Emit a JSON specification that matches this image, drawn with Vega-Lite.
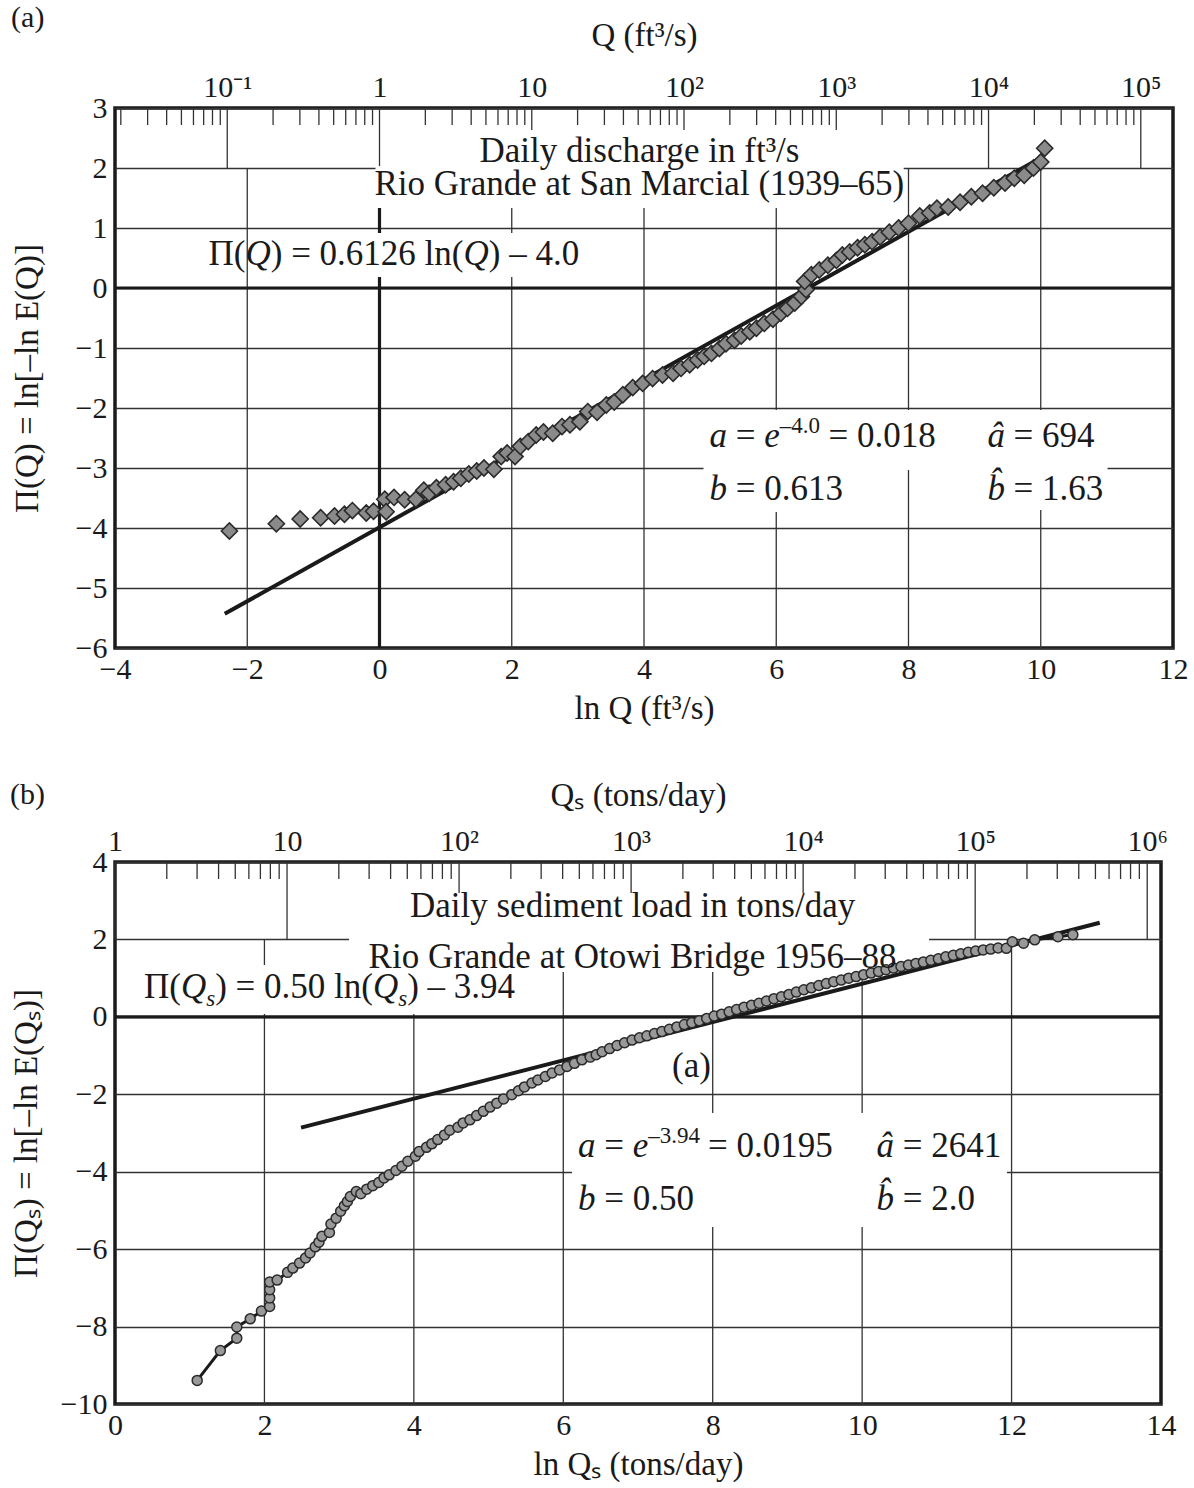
{
  "$schema": "https://vega.github.io/schema/vega-lite/v6.json",
  "padding": {"left": 8, "top": 1, "right": 6, "bottom": 4},
  "spacing": 50,
  "config": {
    "font": "Liberation Serif",
    "view": {"stroke": "#1a1a1a", "strokeWidth": 3.5},
    "axis": {
      "labelFont": "Liberation Serif", "labelFontSize": 30, "labelColor": "#1a1a1a",
      "titleFont": "Liberation Serif", "titleFontSize": 33, "titleFontWeight": "normal", "titleColor": "#1a1a1a",
      "domain": false, "ticks": false, "labelFlush": false, "labelOverlap": false,
      "gridColor": "#333333", "gridWidth": 1.3, "gridOpacity": 1
    },
    "title": {"font": "Liberation Serif", "fontSize": 30, "fontWeight": "normal", "anchor": "start", "frame": "bounds", "color": "#1a1a1a"}
  },
  "datasets": {
    "ptsA": [
      {"x": -2.27, "y": -4.05}, {"x": -1.56, "y": -3.93}, {"x": -1.2, "y": -3.85}, {"x": -0.89, "y": -3.83},
      {"x": -0.68, "y": -3.8}, {"x": -0.53, "y": -3.77}, {"x": -0.41, "y": -3.71}, {"x": -0.2, "y": -3.75},
      {"x": -0.09, "y": -3.72}, {"x": 0.08, "y": -3.52}, {"x": 0.1, "y": -3.73}, {"x": 0.22, "y": -3.49},
      {"x": 0.38, "y": -3.53}, {"x": 0.55, "y": -3.52}, {"x": 0.67, "y": -3.37}, {"x": 0.75, "y": -3.42},
      {"x": 0.86, "y": -3.33}, {"x": 1.0, "y": -3.28}, {"x": 1.12, "y": -3.23}, {"x": 1.23, "y": -3.17},
      {"x": 1.35, "y": -3.1}, {"x": 1.47, "y": -3.05}, {"x": 1.58, "y": -3.0}, {"x": 1.73, "y": -3.02},
      {"x": 1.84, "y": -2.81}, {"x": 1.93, "y": -2.75}, {"x": 2.05, "y": -2.81}, {"x": 2.13, "y": -2.64},
      {"x": 2.25, "y": -2.56}, {"x": 2.37, "y": -2.45}, {"x": 2.48, "y": -2.4}, {"x": 2.62, "y": -2.42},
      {"x": 2.76, "y": -2.31}, {"x": 2.88, "y": -2.28}, {"x": 3.03, "y": -2.23}, {"x": 3.15, "y": -2.06},
      {"x": 3.29, "y": -2.07}, {"x": 3.43, "y": -1.95}, {"x": 3.55, "y": -1.9}, {"x": 3.68, "y": -1.78},
      {"x": 3.83, "y": -1.66}, {"x": 3.98, "y": -1.59}, {"x": 4.13, "y": -1.51}, {"x": 4.28, "y": -1.45},
      {"x": 4.44, "y": -1.42}, {"x": 4.56, "y": -1.34}, {"x": 4.69, "y": -1.28}, {"x": 4.81, "y": -1.2},
      {"x": 4.91, "y": -1.14}, {"x": 5.02, "y": -1.09}, {"x": 5.14, "y": -1.01}, {"x": 5.24, "y": -0.93},
      {"x": 5.37, "y": -0.87}, {"x": 5.47, "y": -0.8}, {"x": 5.6, "y": -0.73}, {"x": 5.7, "y": -0.67},
      {"x": 5.82, "y": -0.59}, {"x": 5.95, "y": -0.52}, {"x": 6.07, "y": -0.42}, {"x": 6.17, "y": -0.34},
      {"x": 6.28, "y": -0.25}, {"x": 6.38, "y": -0.14}, {"x": 6.45, "y": -0.03}, {"x": 6.43, "y": 0.11},
      {"x": 6.53, "y": 0.22}, {"x": 6.65, "y": 0.3}, {"x": 6.78, "y": 0.38}, {"x": 6.91, "y": 0.46},
      {"x": 7.0, "y": 0.55}, {"x": 7.11, "y": 0.6}, {"x": 7.23, "y": 0.67}, {"x": 7.34, "y": 0.72},
      {"x": 7.45, "y": 0.77}, {"x": 7.57, "y": 0.85}, {"x": 7.71, "y": 0.93}, {"x": 7.85, "y": 1.0},
      {"x": 8.0, "y": 1.08}, {"x": 8.17, "y": 1.2}, {"x": 8.32, "y": 1.25}, {"x": 8.43, "y": 1.33},
      {"x": 8.6, "y": 1.35}, {"x": 8.78, "y": 1.43}, {"x": 8.95, "y": 1.52}, {"x": 9.12, "y": 1.58},
      {"x": 9.29, "y": 1.67}, {"x": 9.46, "y": 1.75}, {"x": 9.6, "y": 1.83}, {"x": 9.75, "y": 1.88},
      {"x": 9.89, "y": 2.0}, {"x": 10.0, "y": 2.1}, {"x": 10.06, "y": 2.33}
    ],
    "lineA": [{"x": -2.34, "y": -5.43}, {"x": 10.05, "y": 2.2}],
    "vgridA": [{"g": -2}, {"g": 0}, {"g": 2}, {"g": 4}, {"g": 6}, {"g": 8}, {"g": 10}],
    "decA": [{"t": -2.302585}, {"t": 0}, {"t": 2.302585}, {"t": 4.60517}, {"t": 6.907755}, {"t": 9.21034}, {"t": 11.512925}],
    "minA": [
      {"t": -3.912023}, {"t": -3.506558}, {"t": -3.218876}, {"t": -2.995732}, {"t": -2.813411}, {"t": -2.65926}, {"t": -2.525729}, {"t": -2.407946},
      {"t": -1.609438}, {"t": -1.203973}, {"t": -0.916291}, {"t": -0.693147}, {"t": -0.510826}, {"t": -0.356675}, {"t": -0.223144}, {"t": -0.105361},
      {"t": 0.693147}, {"t": 1.098612}, {"t": 1.386294}, {"t": 1.609438}, {"t": 1.791759}, {"t": 1.94591}, {"t": 2.079442}, {"t": 2.197225},
      {"t": 2.995732}, {"t": 3.401197}, {"t": 3.688879}, {"t": 3.912023}, {"t": 4.094345}, {"t": 4.248495}, {"t": 4.382027}, {"t": 4.49981},
      {"t": 5.298317}, {"t": 5.703782}, {"t": 5.991465}, {"t": 6.214608}, {"t": 6.39693}, {"t": 6.55108}, {"t": 6.684612}, {"t": 6.802395},
      {"t": 7.600902}, {"t": 8.006368}, {"t": 8.29405}, {"t": 8.517193}, {"t": 8.699515}, {"t": 8.853665}, {"t": 8.987197}, {"t": 9.10498},
      {"t": 9.903488}, {"t": 10.308953}, {"t": 10.596635}, {"t": 10.819778}, {"t": 11.0021}, {"t": 11.156251}, {"t": 11.289782}, {"t": 11.407565}
    ],
    "boxesA": [
      {"x1": 0.045, "x2": 7.924, "y1": 2.633, "y2": 1.967},
      {"x1": -0.06, "x2": 7.924, "y1": 2.033, "y2": 1.333},
      {"x1": -1.936, "x2": 3.327, "y1": 0.917, "y2": 0.183},
      {"x1": 4.9, "x2": 11.01, "y1": -2.033, "y2": -3.033},
      {"x1": 4.9, "x2": 7.108, "y1": -3.033, "y2": -3.733},
      {"x1": 9.074, "x2": 11.01, "y1": -3.033, "y2": -3.7}
    ],
    "txtA": [
      {"x": 1.513, "y": 2.1, "t": "Daily discharge in ft³/s"},
      {"x": -0.076, "y": 1.55, "t": "Rio Grande at San Marcial (1939–65)"},
      {"x": -2.586, "y": 0.383, "t": "Π("},
      {"x": -1.645, "y": 0.383, "t": ") = 0.6126 ln("},
      {"x": 1.653, "y": 0.383, "t": ") – 4.0"},
      {"x": 5.388, "y": -2.645, "t": "="},
      {"x": 6.79, "y": -2.645, "t": "= 0.018"},
      {"x": 5.388, "y": -3.533, "t": "= 0.613"},
      {"x": 9.589, "y": -2.645, "t": "= 694"},
      {"x": 9.589, "y": -3.533, "t": "= 1.63"}
    ],
    "itA": [
      {"x": -2.028, "y": 0.383, "t": "Q"},
      {"x": 1.27, "y": 0.383, "t": "Q"},
      {"x": 4.991, "y": -2.645, "t": "a"},
      {"x": 5.819, "y": -2.645, "t": "e"},
      {"x": 4.991, "y": -3.533, "t": "b"},
      {"x": 9.195, "y": -2.645, "t": "â"},
      {"x": 9.195, "y": -3.533, "t": "b̂"}
    ],
    "supA": [{"x": 6.053, "y": -2.417, "t": "–4.0"}],
    "ptsB": [
      {"x": 1.1, "y": -9.39}, {"x": 1.41, "y": -8.62}, {"x": 1.63, "y": -8.3}, {"x": 1.63, "y": -8.01},
      {"x": 1.81, "y": -7.8}, {"x": 1.96, "y": -7.6}, {"x": 2.07, "y": -7.48}, {"x": 2.07, "y": -7.26},
      {"x": 2.07, "y": -7.05}, {"x": 2.07, "y": -6.85}, {"x": 2.17, "y": -6.8}, {"x": 2.31, "y": -6.6},
      {"x": 2.38, "y": -6.49}, {"x": 2.47, "y": -6.36}, {"x": 2.55, "y": -6.23}, {"x": 2.61, "y": -6.1},
      {"x": 2.68, "y": -5.94}, {"x": 2.73, "y": -5.82}, {"x": 2.77, "y": -5.67}, {"x": 2.87, "y": -5.57},
      {"x": 2.89, "y": -5.35}, {"x": 2.96, "y": -5.2}, {"x": 3.02, "y": -5.02}, {"x": 3.07, "y": -4.88},
      {"x": 3.11, "y": -4.77}, {"x": 3.15, "y": -4.64}, {"x": 3.23, "y": -4.51}, {"x": 3.29, "y": -4.57},
      {"x": 3.37, "y": -4.45}, {"x": 3.45, "y": -4.36}, {"x": 3.53, "y": -4.28}, {"x": 3.6, "y": -4.16},
      {"x": 3.67, "y": -4.08}, {"x": 3.76, "y": -3.97}, {"x": 3.84, "y": -3.86}, {"x": 3.92, "y": -3.73},
      {"x": 4.02, "y": -3.6}, {"x": 4.07, "y": -3.48}, {"x": 4.17, "y": -3.37}, {"x": 4.24, "y": -3.28},
      {"x": 4.32, "y": -3.17}, {"x": 4.41, "y": -3.05}, {"x": 4.48, "y": -2.93}, {"x": 4.59, "y": -2.85},
      {"x": 4.66, "y": -2.74}, {"x": 4.75, "y": -2.66}, {"x": 4.84, "y": -2.55}, {"x": 4.93, "y": -2.44},
      {"x": 5.02, "y": -2.33}, {"x": 5.11, "y": -2.23}, {"x": 5.2, "y": -2.12}, {"x": 5.31, "y": -2.01},
      {"x": 5.4, "y": -1.91}, {"x": 5.48, "y": -1.81}, {"x": 5.58, "y": -1.71}, {"x": 5.66, "y": -1.63},
      {"x": 5.76, "y": -1.54}, {"x": 5.85, "y": -1.45}, {"x": 5.95, "y": -1.37}, {"x": 6.05, "y": -1.28},
      {"x": 6.15, "y": -1.2}, {"x": 6.25, "y": -1.11}, {"x": 6.36, "y": -1.04}, {"x": 6.44, "y": -0.98},
      {"x": 6.52, "y": -0.9}, {"x": 6.62, "y": -0.82}, {"x": 6.72, "y": -0.74}, {"x": 6.82, "y": -0.67},
      {"x": 6.92, "y": -0.6}, {"x": 7.02, "y": -0.54}, {"x": 7.12, "y": -0.49}, {"x": 7.22, "y": -0.43},
      {"x": 7.32, "y": -0.38}, {"x": 7.42, "y": -0.32}, {"x": 7.52, "y": -0.26}, {"x": 7.62, "y": -0.2},
      {"x": 7.72, "y": -0.15}, {"x": 7.82, "y": -0.1}, {"x": 7.92, "y": -0.04}, {"x": 8.02, "y": 0.02},
      {"x": 8.12, "y": 0.07}, {"x": 8.22, "y": 0.13}, {"x": 8.32, "y": 0.19}, {"x": 8.42, "y": 0.25},
      {"x": 8.52, "y": 0.3}, {"x": 8.62, "y": 0.35}, {"x": 8.72, "y": 0.41}, {"x": 8.82, "y": 0.47},
      {"x": 8.92, "y": 0.52}, {"x": 9.02, "y": 0.58}, {"x": 9.12, "y": 0.64}, {"x": 9.22, "y": 0.7},
      {"x": 9.32, "y": 0.75}, {"x": 9.42, "y": 0.81}, {"x": 9.52, "y": 0.86}, {"x": 9.62, "y": 0.91},
      {"x": 9.72, "y": 0.95}, {"x": 9.82, "y": 1.0}, {"x": 9.92, "y": 1.04}, {"x": 10.02, "y": 1.09},
      {"x": 10.12, "y": 1.13}, {"x": 10.22, "y": 1.17}, {"x": 10.32, "y": 1.22}, {"x": 10.42, "y": 1.26},
      {"x": 10.52, "y": 1.3}, {"x": 10.62, "y": 1.34}, {"x": 10.72, "y": 1.38}, {"x": 10.82, "y": 1.42},
      {"x": 10.92, "y": 1.46}, {"x": 11.02, "y": 1.5}, {"x": 11.12, "y": 1.55}, {"x": 11.22, "y": 1.59},
      {"x": 11.32, "y": 1.63}, {"x": 11.42, "y": 1.67}, {"x": 11.52, "y": 1.7}, {"x": 11.62, "y": 1.73},
      {"x": 11.72, "y": 1.75}, {"x": 11.82, "y": 1.78}, {"x": 11.93, "y": 1.77}, {"x": 12.01, "y": 1.94},
      {"x": 12.16, "y": 1.9}, {"x": 12.31, "y": 1.99}, {"x": 12.62, "y": 2.07}, {"x": 12.82, "y": 2.12}
    ],
    "lineB": [{"x": 2.49, "y": -2.86}, {"x": 13.18, "y": 2.43}],
    "vgridB": [{"g": 2}, {"g": 4}, {"g": 6}, {"g": 8}, {"g": 10}, {"g": 12}],
    "decB": [{"t": 0}, {"t": 2.302585}, {"t": 4.60517}, {"t": 6.907755}, {"t": 9.21034}, {"t": 11.512925}, {"t": 13.815511}],
    "minB": [
      {"t": 0.693147}, {"t": 1.098612}, {"t": 1.386294}, {"t": 1.609438}, {"t": 1.791759}, {"t": 1.94591}, {"t": 2.079442}, {"t": 2.197225},
      {"t": 2.995732}, {"t": 3.401197}, {"t": 3.688879}, {"t": 3.912023}, {"t": 4.094345}, {"t": 4.248495}, {"t": 4.382027}, {"t": 4.49981},
      {"t": 5.298317}, {"t": 5.703782}, {"t": 5.991465}, {"t": 6.214608}, {"t": 6.39693}, {"t": 6.55108}, {"t": 6.684612}, {"t": 6.802395},
      {"t": 7.600902}, {"t": 8.006368}, {"t": 8.29405}, {"t": 8.517193}, {"t": 8.699515}, {"t": 8.853665}, {"t": 8.987197}, {"t": 9.10498},
      {"t": 9.903488}, {"t": 10.308953}, {"t": 10.596635}, {"t": 10.819778}, {"t": 11.0021}, {"t": 11.156251}, {"t": 11.289782}, {"t": 11.407565},
      {"t": 12.206073}, {"t": 12.611538}, {"t": 12.89922}, {"t": 13.122363}, {"t": 13.304685}, {"t": 13.458836}, {"t": 13.592367}, {"t": 13.71015}
    ],
    "boxesB": [
      {"x1": 3.132, "x2": 10.895, "y1": 3.2, "y2": 1.16},
      {"x1": 0.241, "x2": 5.528, "y1": 1.341, "y2": 0.075},
      {"x1": 6.117, "x2": 11.939, "y1": -2.482, "y2": -5.427}
    ],
    "txtB": [
      {"x": 3.948, "y": 2.591, "t": "Daily sediment load in tons/day"},
      {"x": 3.394, "y": 1.255, "t": "Rio Grande at Otowi Bridge 1956–88"},
      {"x": 0.388, "y": 0.48, "t": "Π("},
      {"x": 1.341, "y": 0.48, "t": ") = 0.50 ln("},
      {"x": 3.911, "y": 0.48, "t": ") – 3.94"},
      {"x": 7.455, "y": -1.545, "t": "(a)"},
      {"x": 6.549, "y": -3.611, "t": "="},
      {"x": 7.937, "y": -3.611, "t": "= 0.0195"},
      {"x": 6.549, "y": -4.988, "t": "= 0.50"},
      {"x": 10.542, "y": -3.611, "t": "= 2641"},
      {"x": 10.542, "y": -4.988, "t": "= 2.0"}
    ],
    "itB": [
      {"x": 0.882, "y": 0.48, "t": "Q"},
      {"x": 3.452, "y": 0.48, "t": "Q"},
      {"x": 6.197, "y": -3.611, "t": "a"},
      {"x": 6.93, "y": -3.611, "t": "e"},
      {"x": 6.197, "y": -4.988, "t": "b"},
      {"x": 10.191, "y": -3.611, "t": "â"},
      {"x": 10.191, "y": -4.988, "t": "b̂"}
    ],
    "subB": [{"x": 1.22, "y": 0.274, "t": "s"}, {"x": 3.792, "y": 0.274, "t": "s"}],
    "supB": [{"x": 7.137, "y": -3.249, "t": "–3.94"}]
  },
  "vconcat": [
    {
      "title": {"text": "(a)", "offset": -14},
      "width": 1058,
      "height": 540,
      "resolve": {"axis": {"x": "independent", "y": "independent"}},
      "layer": [
        {
          "data": {"name": "ptsA"},
          "mark": {"type": "point", "opacity": 0},
          "encoding": {
            "x": {"field": "x", "type": "quantitative", "scale": {"domain": [-4, 12], "nice": false, "zero": false},
              "axis": {"orient": "bottom", "values": [-4, -2, 0, 2, 4, 6, 8, 10, 12], "title": "ln Q (ft³/s)", "labelPadding": 6, "titlePadding": 8, "grid": false}},
            "y": {"field": "y", "type": "quantitative", "scale": {"domain": [-6, 3], "nice": false, "zero": false},
              "axis": {"orient": "left", "values": [-6, -5, -4, -3, -2, -1, 0, 1, 2, 3], "grid": true, "title": "Π(Q) = ln[–ln E(Q)]", "labelPadding": 8, "titlePadding": 31}}
          }
        },
        {
          "data": {"name": "vgridA"},
          "mark": {"type": "rule", "color": "#333333", "strokeWidth": 1.3},
          "encoding": {
            "x": {"field": "g", "type": "quantitative", "axis": null},
            "y": {"datum": -6, "type": "quantitative", "axis": null},
            "y2": {"datum": 2}
          }
        },
        {
          "data": {"values": [{}]},
          "mark": {"type": "rule", "color": "#1a1a1a", "strokeWidth": 3.2},
          "encoding": {"y": {"datum": 0, "type": "quantitative", "axis": null}}
        },
        {
          "data": {"values": [{}]},
          "mark": {"type": "rule", "color": "#1a1a1a", "strokeWidth": 3.2},
          "encoding": {"x": {"datum": 0, "type": "quantitative", "axis": null}, "y": {"datum": -6, "type": "quantitative", "axis": null}, "y2": {"datum": 2}}
        },
        {
          "data": {"name": "minA"},
          "mark": {"type": "rule", "color": "#333333", "strokeWidth": 1.3},
          "encoding": {"x": {"field": "t", "type": "quantitative", "axis": null}, "y": {"datum": 2.717, "type": "quantitative", "axis": null}, "y2": {"datum": 3}}
        },
        {
          "data": {"name": "decA"},
          "mark": {"type": "rule", "color": "#333333", "strokeWidth": 1.3},
          "encoding": {
            "x": {"field": "t", "type": "quantitative",
              "axis": {"orient": "top", "values": [-2.302585, 0, 2.302585, 4.60517, 6.907755, 9.21034, 11.512925],
                "labelExpr": "['10⁻¹','1','10','10²','10³','10⁴','10⁵'][round(datum.value/2.302585)+1]",
                "title": "Q (ft³/s)", "labelPadding": 6, "titlePadding": 20, "grid": false}},
            "y": {"datum": 2, "type": "quantitative", "axis": null},
            "y2": {"datum": 3}
          }
        },
        {
          "data": {"name": "boxesA"},
          "mark": {"type": "rect", "color": "white"},
          "encoding": {
            "x": {"field": "x1", "type": "quantitative", "axis": null}, "x2": {"field": "x2"},
            "y": {"field": "y1", "type": "quantitative", "axis": null}, "y2": {"field": "y2"}
          }
        },
        {
          "data": {"name": "lineA"},
          "mark": {"type": "line", "color": "#1a1a1a", "strokeWidth": 4},
          "encoding": {"x": {"field": "x", "type": "quantitative", "axis": null}, "y": {"field": "y", "type": "quantitative", "axis": null}}
        },
        {
          "data": {"name": "ptsA"},
          "mark": {"type": "point", "shape": "diamond", "filled": true, "size": 260, "color": "#8a8a8a", "stroke": "#2a2a2a", "strokeWidth": 1.6, "opacity": 1},
          "encoding": {"x": {"field": "x", "type": "quantitative", "axis": null}, "y": {"field": "y", "type": "quantitative", "axis": null}}
        },
        {
          "data": {"name": "txtA"},
          "mark": {"type": "text", "align": "left", "baseline": "alphabetic", "fontSize": 35, "font": "Liberation Serif", "color": "#1a1a1a"},
          "encoding": {"x": {"field": "x", "type": "quantitative", "axis": null}, "y": {"field": "y", "type": "quantitative", "axis": null}, "text": {"field": "t"}}
        },
        {
          "data": {"name": "itA"},
          "mark": {"type": "text", "align": "left", "baseline": "alphabetic", "fontSize": 35, "fontStyle": "italic", "font": "Liberation Serif", "color": "#1a1a1a"},
          "encoding": {"x": {"field": "x", "type": "quantitative", "axis": null}, "y": {"field": "y", "type": "quantitative", "axis": null}, "text": {"field": "t"}}
        },
        {
          "data": {"name": "supA"},
          "mark": {"type": "text", "align": "left", "baseline": "alphabetic", "fontSize": 23, "font": "Liberation Serif", "color": "#1a1a1a"},
          "encoding": {"x": {"field": "x", "type": "quantitative", "axis": null}, "y": {"field": "y", "type": "quantitative", "axis": null}, "text": {"field": "t"}}
        }
      ]
    },
    {
      "title": {"text": "(b)", "offset": -31},
      "width": 1046,
      "height": 542,
      "resolve": {"axis": {"x": "independent", "y": "independent"}},
      "layer": [
        {
          "data": {"name": "ptsB"},
          "mark": {"type": "point", "opacity": 0},
          "encoding": {
            "x": {"field": "x", "type": "quantitative", "scale": {"domain": [0, 14], "nice": false, "zero": false},
              "axis": {"orient": "bottom", "values": [0, 2, 4, 6, 8, 10, 12, 14], "title": "ln Qₛ (tons/day)", "labelPadding": 6, "titlePadding": 8, "grid": false}},
            "y": {"field": "y", "type": "quantitative", "scale": {"domain": [-10, 4], "nice": false, "zero": false},
              "axis": {"orient": "left", "values": [-10, -8, -6, -4, -2, 0, 2, 4], "grid": true, "title": "Π(Qₛ) = ln[–ln E(Qₛ)]", "labelPadding": 8, "titlePadding": 17}}
          }
        },
        {
          "data": {"name": "vgridB"},
          "mark": {"type": "rule", "color": "#333333", "strokeWidth": 1.3},
          "encoding": {
            "x": {"field": "g", "type": "quantitative", "axis": null},
            "y": {"datum": -10, "type": "quantitative", "axis": null},
            "y2": {"datum": 2}
          }
        },
        {
          "data": {"values": [{}]},
          "mark": {"type": "rule", "color": "#1a1a1a", "strokeWidth": 3.2},
          "encoding": {"y": {"datum": 0, "type": "quantitative", "axis": null}}
        },
        {
          "data": {"name": "minB"},
          "mark": {"type": "rule", "color": "#333333", "strokeWidth": 1.3},
          "encoding": {"x": {"field": "t", "type": "quantitative", "axis": null}, "y": {"datum": 3.56, "type": "quantitative", "axis": null}, "y2": {"datum": 4}}
        },
        {
          "data": {"name": "decB"},
          "mark": {"type": "rule", "color": "#333333", "strokeWidth": 1.3},
          "encoding": {
            "x": {"field": "t", "type": "quantitative",
              "axis": {"orient": "top", "values": [0, 2.302585, 4.60517, 6.907755, 9.21034, 11.512925, 13.815511],
                "labelExpr": "['1','10','10²','10³','10⁴','10⁵','10⁶'][round(datum.value/2.302585)]",
                "title": "Qₛ (tons/day)", "labelPadding": 6, "titlePadding": 14, "grid": false}},
            "y": {"datum": 2, "type": "quantitative", "axis": null},
            "y2": {"datum": 4}
          }
        },
        {
          "data": {"name": "boxesB"},
          "mark": {"type": "rect", "color": "white"},
          "encoding": {
            "x": {"field": "x1", "type": "quantitative", "axis": null}, "x2": {"field": "x2"},
            "y": {"field": "y1", "type": "quantitative", "axis": null}, "y2": {"field": "y2"}
          }
        },
        {
          "data": {"name": "lineB"},
          "mark": {"type": "line", "color": "#1a1a1a", "strokeWidth": 4},
          "encoding": {"x": {"field": "x", "type": "quantitative", "axis": null}, "y": {"field": "y", "type": "quantitative", "axis": null}}
        },
        {
          "data": {"name": "ptsB"},
          "mark": {"type": "line", "color": "#1a1a1a", "strokeWidth": 3},
          "encoding": {"x": {"field": "x", "type": "quantitative", "axis": null}, "y": {"field": "y", "type": "quantitative", "axis": null}, "order": {"value": null}}
        },
        {
          "data": {"name": "ptsB"},
          "mark": {"type": "point", "shape": "circle", "filled": true, "size": 100, "color": "#999999", "stroke": "#2a2a2a", "strokeWidth": 1.5, "opacity": 1},
          "encoding": {"x": {"field": "x", "type": "quantitative", "axis": null}, "y": {"field": "y", "type": "quantitative", "axis": null}}
        },
        {
          "data": {"name": "txtB"},
          "mark": {"type": "text", "align": "left", "baseline": "alphabetic", "fontSize": 35, "font": "Liberation Serif", "color": "#1a1a1a"},
          "encoding": {"x": {"field": "x", "type": "quantitative", "axis": null}, "y": {"field": "y", "type": "quantitative", "axis": null}, "text": {"field": "t"}}
        },
        {
          "data": {"name": "itB"},
          "mark": {"type": "text", "align": "left", "baseline": "alphabetic", "fontSize": 35, "fontStyle": "italic", "font": "Liberation Serif", "color": "#1a1a1a"},
          "encoding": {"x": {"field": "x", "type": "quantitative", "axis": null}, "y": {"field": "y", "type": "quantitative", "axis": null}, "text": {"field": "t"}}
        },
        {
          "data": {"name": "subB"},
          "mark": {"type": "text", "align": "left", "baseline": "alphabetic", "fontSize": 23, "fontStyle": "italic", "font": "Liberation Serif", "color": "#1a1a1a"},
          "encoding": {"x": {"field": "x", "type": "quantitative", "axis": null}, "y": {"field": "y", "type": "quantitative", "axis": null}, "text": {"field": "t"}}
        },
        {
          "data": {"name": "supB"},
          "mark": {"type": "text", "align": "left", "baseline": "alphabetic", "fontSize": 23, "font": "Liberation Serif", "color": "#1a1a1a"},
          "encoding": {"x": {"field": "x", "type": "quantitative", "axis": null}, "y": {"field": "y", "type": "quantitative", "axis": null}, "text": {"field": "t"}}
        }
      ]
    }
  ]
}
